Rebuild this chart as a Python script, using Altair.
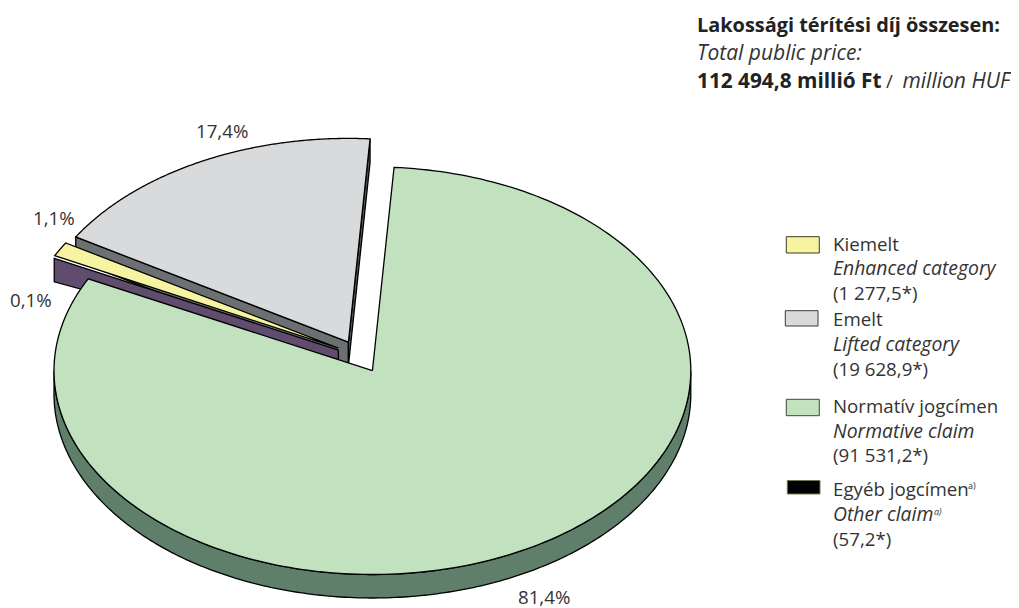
import numpy as np
import pandas as pd
import altair as alt

# ---- data ----
categories = ["Normatív jogcímen", "Egyéb jogcímen", "Kiemelt", "Emelt"]
values = [91531.2, 57.2, 1277.5, 19628.9]
pct_labels = ["81,4%", "0,1%", "1,1%", "17,4%"]

# ---- 3D pie geometry ----
CX, CY, A, B, DEPTH = 372.4, 370.7, 318.4, 203.8, 23.5
START = 3.9
OFFSET = {"Normatív jogcímen": (0, 0), "Egyéb jogcímen": (-34, -20.5),
          "Kiemelt": (-34, -22.5), "Emelt": (-24, -28.5)}
TOP = {"Normatív jogcímen": "#c1e1bf", "Egyéb jogcímen": "#604d6e",
       "Kiemelt": "#f6f4a0", "Emelt": "#d9dadc"}
WALL = {"Normatív jogcímen": "#5f7f6b", "Egyéb jogcímen": "#604d6e",
        "Kiemelt": "#604d6e", "Emelt": "#6d7072"}

total = sum(values)
angles = {}
a0 = START
for c, v in zip(categories, values):
    a1 = a0 + v / total * 360
    angles[c] = (a0, a1)
    a0 = a1


def rim(deg, off=(0, 0), down=0):
    t = np.radians(deg)
    return CX + off[0] + A * np.sin(t), CY + off[1] - B * np.cos(t) + down


def frame(xs, ys):
    return pd.DataFrame({"x": xs, "y": ys, "i": range(len(xs))})


def wedge(c):
    a0, a1 = angles[c]
    off = OFFSET[c]
    xs, ys = rim(np.linspace(a0, a1, 240), off)
    ax, ay = CX + off[0], CY + off[1]
    return frame([ax, *xs, ax], [ay, *ys, ay])


def radial_wall(c, deg, apex_depth=DEPTH):
    off = OFFSET[c]
    rx, ry = rim(deg, off)
    ax, ay = CX + off[0], CY + off[1]
    return frame([ax, rx, rx, ax, ax], [ay, ry, ry + DEPTH, ay + apex_depth, ay])


def rim_wall(c, d0, d1):
    off = OFFSET[c]
    d = np.linspace(d0, d1, 240)
    xs, ys = rim(d, off)
    x2, y2 = rim(d[::-1], off, DEPTH)
    return frame([*xs, *x2, xs[0]], [*ys, *y2, ys[0]])


XS = alt.Scale(domain=[8, 1011])
YS = alt.Scale(domain=[600, 8])


def poly(df, fill, stroke="#000000", sw=1.3):
    return alt.Chart(df).mark_line(fill=fill, stroke=stroke, strokeWidth=sw, strokeJoin="miter").encode(
        x=alt.X("x:Q", scale=XS, axis=None),
        y=alt.Y("y:Q", scale=YS, axis=None),
        order="i:Q",
    )


n, o, k, e = categories
shapes = [
    poly(radial_wall(e, angles[e][0]), WALL[e]),
    poly(radial_wall(e, angles[e][1]), "#55585a"),
    poly(wedge(e), TOP[e]),
    poly(radial_wall(o, angles[o][0], apex_depth=9.5), WALL[o]),
    poly(wedge(k), TOP[k]),
    poly(rim_wall(n, 90, 270), WALL[n]),
    poly(wedge(n), TOP[n]),
]

# ---- legend ----
leg_x0 = [786.3, 785.3, 786.3, 787.3]
leg_x1 = [819.3, 818.0, 819.3, 820.0]
leg_y0 = [236.7, 310.7, 399.3, 480.5]
leg_y1 = [253.0, 326.0, 415.7, 494.0]
leg_fill = ["#f6f4a0", "#d9dadc", "#c1e1bf", "#000000"]
leg_stroke = ["#3a3a2a", "#3a3a3a", "#3a4a3a", "#6f7a4a"]
legend_boxes = []
for x0, x1, y0, y1, f, s in zip(leg_x0, leg_x1, leg_y0, leg_y1, leg_fill, leg_stroke):
    legend_boxes.append(
        alt.Chart(pd.DataFrame({"x": [x0], "x2": [x1], "y": [y0], "y2": [y1]}))
        .mark_rect(fill=f, stroke=s, strokeWidth=1)
        .encode(x=alt.X("x:Q", scale=XS, axis=None), x2="x2:Q",
                y=alt.Y("y:Q", scale=YS, axis=None), y2="y2:Q")
    )

# ---- text ----
FONT = "Open Sans"
INK = "#333333"
regular = [
    ("Kiemelt", 833, 250.5), ("(1 277,5*)", 833, 299.5),
    ("Emelt", 833, 326), ("(19 628,9*)", 833, 375.5),
    ("Normatív jogcímen", 833, 413), ("(91 531,2*)", 833, 462),
    ("Egyéb jogcímen", 833, 496), ("(57,2*)", 833, 545.5),
]
pct = [
    (pct_labels[0], 518, 604), (pct_labels[1], 10, 307),
    (pct_labels[2], 33, 225), (pct_labels[3], 196, 138),
]
italic = [
    ("Enhanced category", 833, 275), ("Lifted category", 833, 351),
    ("Normative claim", 833, 438), ("Other claim", 833, 521),
]
italic_top = [("Total public price:", 697, 60), ("million HUF", 902.5, 88)]
slash = [("/", 886, 88)]
bold_title = [("Lakossági térítési díj összesen:", 697, 31.7)]
bold_total = [("112 494,8 millió Ft", 697, 88)]
sup_r = [("a)", 968, 489)]
sup_i = [("a)", 934, 515)]


def texts(rows, size, color=INK, **kw):
    df = pd.DataFrame(rows, columns=["t", "x", "y"])
    return alt.Chart(df).mark_text(align="left", baseline="alphabetic", font=FONT, fontSize=size,
                                   color=color, **kw).encode(
        x=alt.X("x:Q", scale=XS, axis=None), y=alt.Y("y:Q", scale=YS, axis=None), text="t:N")


layers = shapes + legend_boxes + [
    texts(regular, 18.7),
    texts(pct, 18.7),
    texts(slash, 18.7),
    texts(italic, 19.4, fontStyle="italic"),
    texts(italic_top, 21, fontStyle="italic"),
    texts(bold_title, 19.9, color="#222222", fontWeight="bold"),
    texts(bold_total, 20.8, color="#222222", fontWeight="bold"),
    texts(sup_r, 9),
    texts(sup_i, 9, fontStyle="italic"),
]

chart = alt.layer(*layers).properties(
    width=1003, height=592,
    autosize=alt.AutoSizeParams(type="none"),
    padding={"left": 0, "top": 0, "right": 0, "bottom": 8},
).configure_view(stroke=None)

chart.save("out.html", embed_options={"renderer": "svg", "actions": False})
